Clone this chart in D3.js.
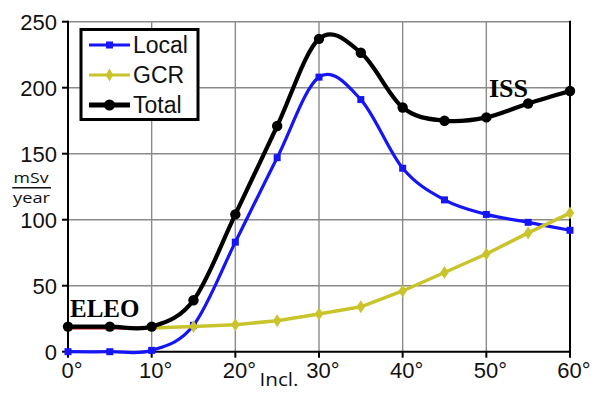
<!DOCTYPE html>
<html><head><meta charset="utf-8">
<script src="https://cdn.jsdelivr.net/npm/d3@7"></script>
<style>body{margin:0;background:#fff}svg{display:block}</style>
</head><body>
<svg id="c" width="600" height="393"></svg>
<script>
const inclinations = [0,5,10,15,20,25,30,35,40,45,50,55,60];
const localDose = [0,0,1,20,83,147,208,191,139,115,104,98,92];
const gcrDose   = [18,18,18,19,20.5,23.5,28.5,34,46,60,74,90,105];
const totalDose = [19,19,19,39,104,171,237,226.5,185,175,177.5,188,197.5];
const xTicks = [0,10,20,30,40,50,60];
const yTicks = [0,50,100,150,200,250];
const seriesNames = ["Local","GCR","Total"];

const svg = d3.select("#c");
const x = d3.scaleLinear().domain([0,60]).range([68,570]);
const y = d3.scaleLinear().domain([0,250]).range([351.7,21.7]);

// grid
svg.append("g").selectAll("line").data(xTicks.filter(d=>d>0&&d<60)).join("line")
  .attr("x1",d=>x(d)).attr("x2",d=>x(d)).attr("y1",y(0)).attr("y2",y(250))
  .attr("stroke","#8a8a8a").attr("stroke-width",1.4);
svg.append("g").selectAll("line").data(yTicks.filter(d=>d>0)).join("line")
  .attr("x1",x(0)).attr("x2",x(60)).attr("y1",d=>y(d)).attr("y2",d=>y(d))
  .attr("stroke","#8a8a8a").attr("stroke-width",1.4);

// axes
const ax = svg.append("g").attr("stroke","#000").attr("stroke-width",2);
ax.append("line").attr("x1",x(0)).attr("x2",x(0)).attr("y1",y(250)-1).attr("y2",y(0)+1);
ax.append("line").attr("x1",x(0)-1).attr("x2",x(60)+1).attr("y1",y(0)).attr("y2",y(0));
ax.append("line").attr("x1",x(60)).attr("x2",x(60)).attr("y1",y(250)-1).attr("y2",y(0)+1);
ax.selectAll(".yt").data(yTicks).join("line").attr("class","yt")
  .attr("x1",x(0)-6).attr("x2",x(0)).attr("y1",d=>y(d)).attr("y2",d=>y(d));
ax.selectAll(".xt").data(xTicks).join("line").attr("class","xt")
  .attr("x1",d=>x(d)).attr("x2",d=>x(d)).attr("y1",y(0)).attr("y2",y(0)+6);

// tick labels
svg.append("g").selectAll("text").data(yTicks).join("text")
  .attr("x",57).attr("y",d=>y(d)+8.5).attr("text-anchor","end")
  .attr("font-family","Liberation Sans, Arial, sans-serif").attr("font-size",22)
  .attr("fill","#111").text(d=>d);
svg.append("g").selectAll("text").data(xTicks).join("text")
  .attr("x",d=>x(d)+4).attr("y",378).attr("text-anchor","middle")
  .attr("font-family","Liberation Sans, Arial, sans-serif").attr("font-size",22)
  .attr("fill","#111").text(d=>d+"°");

// axis titles
svg.append("text").attr("x",259.5).attr("y",386)
  .attr("font-family","Open Sans, Liberation Sans, sans-serif").attr("font-size",19)
  .attr("textLength",39).attr("lengthAdjust","spacingAndGlyphs")
  .attr("fill","#111").text("Incl.");
svg.append("text").attr("x",13.5).attr("y",182.5).attr("textLength",35)
  .attr("lengthAdjust","spacingAndGlyphs")
  .attr("font-family","Open Sans, Liberation Sans, sans-serif").attr("font-size",15)
  .attr("fill","#111").text("mSv");
svg.append("text").attr("x",13).attr("y",202.5).attr("textLength",37)
  .attr("lengthAdjust","spacingAndGlyphs")
  .attr("font-family","Open Sans, Liberation Sans, sans-serif").attr("font-size",15)
  .attr("fill","#111").text("year");
svg.append("line").attr("x1",12.3).attr("x2",51).attr("y1",187.7).attr("y2",187.7)
  .attr("stroke","#111").attr("stroke-width",1.5);

// lines
const pts = arr => inclinations.map((d,i)=>[d,arr[i]]);
const smooth = d3.line().x(d=>x(d[0])).y(d=>y(d[1])).curve(d3.curveCardinal.tension(0));
const straight = d3.line().x(d=>x(d[0])).y(d=>y(d[1]));

const localPts = pts(localDose), gcrPts = pts(gcrDose), totalPts = pts(totalDose);

svg.append("path").attr("d",smooth(localPts)).attr("fill","none")
  .attr("stroke","#1515f5").attr("stroke-width",3.2);
svg.append("g").selectAll("rect").data(localPts).join("rect")
  .attr("x",d=>x(d[0])-3.5).attr("y",d=>y(d[1])-3.5).attr("width",7).attr("height",7)
  .attr("fill","#1515f5");

svg.append("path").attr("d",straight(gcrPts.slice(0,3))).attr("fill","none")
  .attr("stroke","#d01010").attr("stroke-width",3);
svg.append("path").attr("d",straight(gcrPts.slice(2))).attr("fill","none")
  .attr("stroke","#c9c42c").attr("stroke-width",3.5);
svg.append("g").selectAll("path").data(gcrPts.slice(3)).join("path")
  .attr("d",d3.symbol(d3.symbolDiamond,60)())
  .attr("transform",d=>`translate(${x(d[0])},${y(d[1])}) scale(1,0.9)`)
  .attr("fill","#c9c42c");

svg.append("path").attr("d",smooth(totalPts)).attr("fill","none")
  .attr("stroke","#000").attr("stroke-width",4.2);
svg.append("g").selectAll("circle").data(totalPts).join("circle")
  .attr("cx",d=>x(d[0])).attr("cy",d=>y(d[1])).attr("r",5.2).attr("fill","#000");

// annotations
svg.append("text").attr("x",70).attr("y",316.5)
  .attr("font-family","Liberation Serif, Times New Roman, serif").attr("font-weight","bold")
  .attr("font-size",25).attr("fill","#000").text("ELEO");
svg.append("text").attr("x",489).attr("y",96.5)
  .attr("font-family","Liberation Serif, Times New Roman, serif").attr("font-weight","bold")
  .attr("font-size",26).attr("fill","#000").text("ISS");

// legend
const lg = svg.append("g");
lg.append("rect").attr("x",81).attr("y",29.5).attr("width",117).attr("height",90)
  .attr("fill","#fff").attr("stroke","#000").attr("stroke-width",3);
const legColors = ["#1515f5","#c9c42c","#000"];
const legY = [45,75,105];
seriesNames.forEach((name,i)=>{
  lg.append("line").attr("x1",89).attr("x2",130).attr("y1",legY[i]).attr("y2",legY[i])
    .attr("stroke",legColors[i]).attr("stroke-width",i===2?5:3.2);
  if(i===0) lg.append("rect").attr("x",106).attr("y",legY[i]-3.5).attr("width",7).attr("height",7).attr("fill",legColors[i]);
  if(i===1) lg.append("path").attr("d",d3.symbol(d3.symbolDiamond,50)()).attr("transform",`translate(109.5,${legY[i]})`).attr("fill",legColors[i]);
  if(i===2) lg.append("circle").attr("cx",109.5).attr("cy",legY[i]).attr("r",5.5).attr("fill","#000");
  lg.append("text").attr("x",133).attr("y",legY[i]+7.8)
    .attr("font-family","Liberation Sans, Arial, sans-serif").attr("font-size",23)
    .attr("fill","#111").text(name);
});
</script>
</body></html>
